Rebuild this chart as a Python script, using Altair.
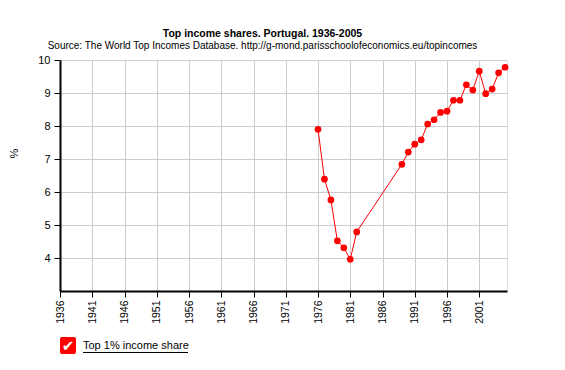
import altair as alt
import pandas as pd

years = [1976, 1977, 1978, 1979, 1980, 1981, 1982, 1989, 1990, 1991, 1992, 1993,
         1994, 1995, 1996, 1997, 1998, 1999, 2000, 2001, 2002, 2003, 2004, 2005]
values = [7.90, 6.39, 5.76, 4.52, 4.31, 3.96, 4.79, 6.84, 7.21, 7.45, 7.58, 8.06,
          8.19, 8.41, 8.45, 8.78, 8.78, 9.25, 9.09, 9.66, 8.98, 9.12, 9.61, 9.78]
x_ticks = [1936, 1941, 1946, 1951, 1956, 1961, 1966, 1971, 1976, 1981, 1986, 1991, 1996, 2001]
y_ticks = [4, 5, 6, 7, 8, 9, 10]
legend_label = ["Top 1% income share"]
title_text = "Top income shares. Portugal. 1936-2005"
subtitle_text = "Source: The World Top Incomes Database. http://g-mond.parisschoolofeconomics.eu/topincomes"

df = pd.DataFrame({"year": years, "value": values})
FONT = "Liberation Sans"

x_enc = alt.X("year:Q",
              scale=alt.Scale(domain=[1936, 2005.3], nice=False, zero=False),
              axis=alt.Axis(values=x_ticks, format="d", labelAngle=-90, title=None,
                            labelFontSize=10.5, labelColor="#000", domainColor="#000",
                            domainWidth=2, tickColor="#000", tickSize=6, labelPadding=3,
                            labelOverlap=False, labelFlush=False,
                            gridColor="#cccccc", gridWidth=1, labelFont=FONT))
y_enc = alt.Y("value:Q",
              scale=alt.Scale(domain=[3, 10], nice=False, zero=False),
              axis=alt.Axis(values=y_ticks, title="%", titleAngle=-90, titleX=-46, titleY=93,
                            titleBaseline="middle", titleAlign="center",
                            titleFontWeight="normal", titleFontSize=11, titleFont=FONT,
                            titleColor="#000", labelOverlap=False, labelFlush=False,
                            labelFontSize=11, labelColor="#000", domainColor="#000",
                            domainWidth=2, tickColor="#000", tickSize=6, labelPadding=4,
                            gridColor="#cccccc", gridWidth=1, labelFont=FONT))

base = alt.Chart(df)
line = base.mark_line(color="#ff0000", strokeWidth=1).encode(x=x_enc, y=y_enc)
pts = base.mark_circle(color="#ff0000", size=45, opacity=1).encode(x=x_enc, y=y_enc)

leg_df = pd.DataFrame({"label": legend_label})
leg_box = alt.Chart(leg_df).mark_rect(color="#ff0000", cornerRadius=2).encode(
    x=alt.value(0), x2=alt.value(16), y=alt.value(277), y2=alt.value(294))
leg_check = alt.Chart(leg_df).mark_text(text="✔", color="white", fontSize=15,
                                        font="DejaVu Sans", align="center", baseline="middle").encode(
    x=alt.value(8), y=alt.value(286))
leg_text = alt.Chart(leg_df).mark_text(align="left", baseline="middle", fontSize=11,
                                       font=FONT, color="#000").encode(
    text="label:N", x=alt.value(23), y=alt.value(286))
leg_rule = alt.Chart(leg_df).mark_rule(color="#000", strokeWidth=1).encode(
    x=alt.value(23), x2=alt.value(128), y=alt.value(292.5))

chart = alt.layer(line, pts, leg_box, leg_check, leg_text, leg_rule).properties(
    width=447, height=231,
    title=alt.TitleParams(text=title_text, subtitle=subtitle_text, fontSize=10.5,
                          fontWeight="bold", font=FONT, subtitleFont=FONT,
                          subtitleFontSize=10, subtitleColor="#000", color="#000",
                          anchor="middle", dx=-21, offset=3, subtitlePadding=2),
    autosize=alt.AutoSizeParams(type="none"),
    padding={"left": 52, "top": 52, "right": 40, "bottom": 80},
).configure_view(stroke=None).configure(background="white")

chart.save("out.html", embed_options={"renderer": "svg", "actions": False})
